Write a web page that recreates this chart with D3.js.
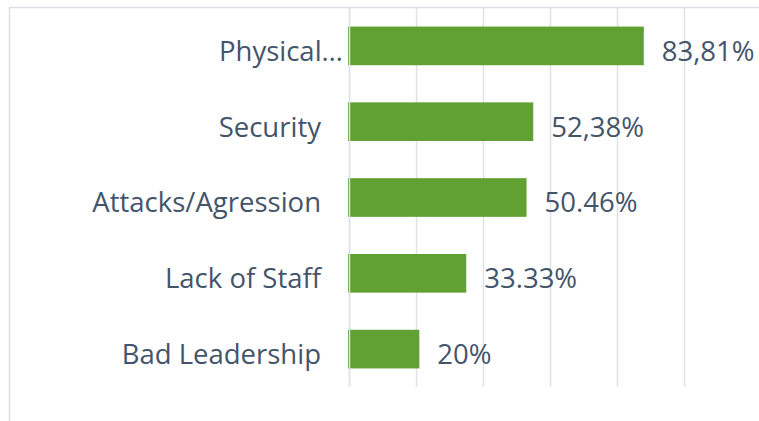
<!DOCTYPE html>
<html>
<head>
<meta charset="utf-8">
<script src="https://cdn.jsdelivr.net/npm/d3@7"></script>
<style>
  body { margin: 0; background: #fff; }
  text { font-family: "Open Sans", sans-serif; }
</style>
</head>
<body>
<div id="chart"></div>
<script>
// answers out of 105 respondents
const categories = ["Physical…", "Security", "Attacks/Agression", "Lack of Staff", "Bad Leadership"];
const counts = [88, 55, 53, 35, 21];
const valueLabels = ["83,81%", "52,38%", "50.46%", "33.33%", "20%"];
const gridTicks = [0, 20, 40, 60, 80, 100];

const W = 759, H = 421;
const margin = {top: 8, left: 349};
const plotW = 335, plotH = 379;
const fontSize = 27.5;

let svg = d3.select("#chart").append("svg")
    .attr("width", W)
    .attr("height", H);

// chart frame (cut off at right and bottom)
svg.append("path")
    .attr("d", "M9.5," + H + "V7.5H" + W)
    .attr("fill", "none")
    .attr("stroke", "#DCE0E6")
    .attr("stroke-width", 1.5);

let g = svg.append("g")
    .attr("transform", "translate(" + margin.left + "," + margin.top + ")");

let xScale = d3.scaleLinear().domain([0, 100]).range([0, plotW]);
let yScale = d3.scaleBand().domain(categories).range([0, plotH]).paddingInner(0.49).paddingOuter(0.245);

g.selectAll(".grid")
    .data(gridTicks)
    .enter().append("line")
    .attr("class", "grid")
    .attr("x1", d => xScale(d) + 0.5)
    .attr("x2", d => xScale(d) + 0.5)
    .attr("y1", 0)
    .attr("y2", plotH)
    .attr("stroke", "#DDE1E8")
    .attr("stroke-width", 1.5);

g.selectAll(".bar")
    .data(counts)
    .enter().append("rect")
    .attr("class", "bar")
    .attr("x", xScale(0) - 1)
    .attr("y", (d, i) => yScale(categories[i]))
    .attr("width", d => xScale(d) + 1)
    .attr("height", yScale.bandwidth())
    .attr("fill", "#61A133");

// zero line drawn over bars
g.append("line")
    .attr("x1", xScale(0) + 0.5).attr("x2", xScale(0) + 0.5)
    .attr("y1", 0).attr("y2", plotH)
    .attr("stroke", "#DDE1E8")
    .attr("stroke-width", 1.5);

let yAxis = d3.axisLeft(yScale).tickSize(0).tickPadding(28);
let yAxisGroup = g.append("g").call(yAxis);
yAxisGroup.select(".domain").remove();
yAxisGroup.selectAll("text")
    .attr("font-size", fontSize)
    .attr("fill", "#44546A")
    .attr("dy", "0.54em")
    .style("font-family", "'Open Sans', sans-serif");

// truncated label runs closer to the axis, like excel does it
yAxisGroup.selectAll("text")
    .filter(d => d.endsWith("…"))
    .attr("x", -6);

g.selectAll(".val")
    .data(counts)
    .enter().append("text")
    .attr("class", "val")
    .attr("x", d => xScale(d) + 18)
    .attr("y", (d, i) => yScale(categories[i]) + yScale.bandwidth() / 2)
    .attr("dy", "0.54em")
    .attr("font-size", fontSize)
    .attr("fill", "#44546A")
    .text((d, i) => valueLabels[i]);
</script>
</body>
</html>
